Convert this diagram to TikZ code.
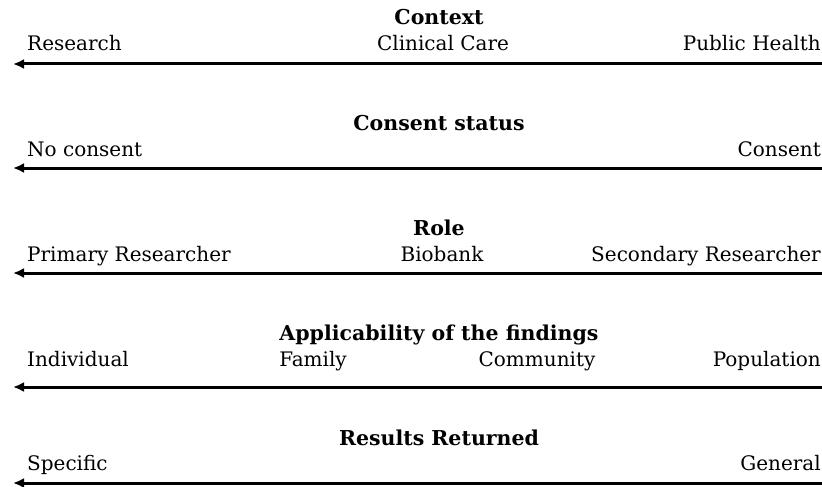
\documentclass[tikz,border=0pt]{standalone}
\usepackage{fontspec}
\setmainfont{DejaVu Serif}
\usetikzlibrary{arrows.meta}
\begin{document}
\begin{tikzpicture}[x=1pt,y=-1pt,
  lbl/.style={inner sep=0pt,font=\fontsize{20}{23}\selectfont},
  ttl/.style={inner sep=0pt,anchor=base,font=\fontsize{20.5}{23}\selectfont\bfseries},
  axis/.style={line width=3pt,-{Latex[length=11pt,width=10pt]}}]
\useasboundingbox (0,0) rectangle (822,487);
% Row 1
\node[ttl] (t1) at (439,25) {Context};
\node[lbl,anchor=base west] (a1) at (27,51) {Research};
\node[lbl,anchor=base] (b1) at (443,51) {Clinical Care};
\node[lbl,anchor=base east] (c1) at (821,51) {Public Health};
\coordinate (r1) at (822,64);
\coordinate (l1) at (13,64);
\draw[axis] (r1) -- (l1);
% Row 2
\node[ttl] (t2) at (439,130) {Consent status};
\node[lbl,anchor=base west] (a2) at (27,156) {No consent};
\node[lbl,anchor=base east] (c2) at (821,156) {Consent};
\coordinate (r2) at (822,168);
\coordinate (l2) at (13,168);
\draw[axis] (r2) -- (l2);
% Row 3
\node[ttl] (t3) at (439,235) {Role};
\node[lbl,anchor=base west] (a3) at (27,261) {Primary Researcher};
\node[lbl,anchor=base] (b3) at (442,261) {Biobank};
\node[lbl,anchor=base east] (c3) at (821,261) {Secondary Researcher};
\coordinate (r3) at (822,273);
\coordinate (l3) at (13,273);
\draw[axis] (r3) -- (l3);
% Row 4
\node[ttl] (t4) at (439,340) {Applicability of the findings};
\node[lbl,anchor=base west] (a4) at (27,366) {Individual};
\node[lbl,anchor=base] (b4) at (313,366) {Family};
\node[lbl,anchor=base] (c4) at (537,366) {Community};
\node[lbl,anchor=base east] (d4) at (821,366) {Population};
\coordinate (r4) at (822,387);
\coordinate (l4) at (13,387);
\draw[axis] (r4) -- (l4);
% Row 5
\node[ttl] (t5) at (439,445) {Results Returned};
\node[lbl,anchor=base west] (a5) at (27,470) {Specific};
\node[lbl,anchor=base east] (c5) at (821,470) {General};
\coordinate (r5) at (822,483);
\coordinate (l5) at (13,483);
\draw[axis] (r5) -- (l5);
\end{tikzpicture}
\end{document}
